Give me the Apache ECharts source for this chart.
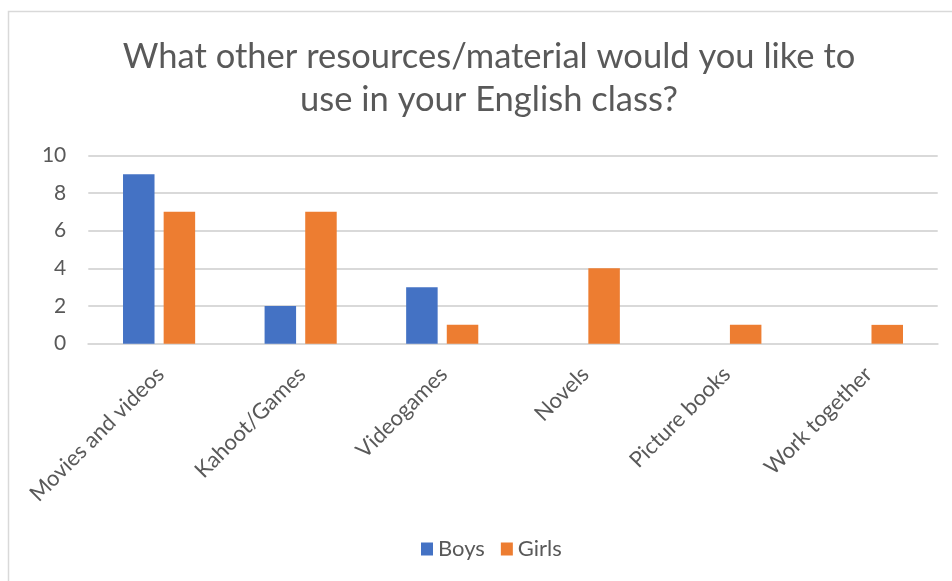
<!DOCTYPE html>
<html>
<head>
<meta charset="utf-8">
<script src="https://cdn.jsdelivr.net/npm/echarts@6/dist/echarts.min.js"></script>
<style>
  html, body { margin: 0; padding: 0; background: #ffffff; }
  #chart { width: 952px; height: 581px; }
</style>
</head>
<body>
<div id="chart"></div>
<script>
// Survey answers: preferred resources for English class, split by boys and girls
const categories = ['Movies and videos', 'Kahoot/Games', 'Videogames', 'Novels', 'Picture books', 'Work together'];
const boys = [9, 2, 3, 0, 0, 0];
const girls = [7, 7, 1, 4, 1, 1];
const yTicks = { min: 0, max: 10, interval: 2 };
const titleLines = ['What other resources/material would you like to', 'use in your English class?'];

const textColor = '#595959';
const fontFamily = 'Lato, Carlito, "Noto Sans", sans-serif';

const chart = echarts.init(document.getElementById('chart'), null, { renderer: 'canvas' });

chart.setOption({
  backgroundColor: '#ffffff',
  animation: false,
  textStyle: { fontFamily: fontFamily },
  graphic: [
    {
      type: 'rect',
      shape: { x: 8.5, y: 11.5, width: 980, height: 600 },
      style: { fill: 'none', stroke: '#d9d9d9', lineWidth: 1.5 },
      silent: true
    },
    {
      type: 'text',
      style: {
        x: 489, y: 57, text: titleLines[0],
        textAlign: 'center', textVerticalAlign: 'middle',
        font: '34.5px ' + fontFamily, fill: textColor
      }
    },
    {
      type: 'text',
      style: {
        x: 489, y: 100, text: titleLines[1],
        textAlign: 'center', textVerticalAlign: 'middle',
        font: '34.5px ' + fontFamily, fill: textColor
      }
    }
  ],
  legend: {
    data: ['Boys', 'Girls'],
    left: 416,
    top: 533,
    itemWidth: 12,
    itemHeight: 13,
    itemGap: 16,
    textStyle: { fontSize: 22, color: textColor, fontFamily: fontFamily },
    icon: 'rect'
  },
  grid: {
    left: 88.3,
    right: 14.3,
    top: 155.3,
    bottom: 237.3,
    containLabel: false
  },
  xAxis: {
    type: 'category',
    data: categories,
    axisLine: { show: true, lineStyle: { color: '#d9d9d9', width: 2 } },
    axisTick: { show: false },
    axisLabel: {
      interval: 0,
      rotate: 45,
      margin: 20,
      align: 'right',
      verticalAlign: 'top',
      fontSize: 22,
      lineHeight: 12,
      padding: [0, 4, 0, 0],
      color: textColor,
      fontFamily: fontFamily
    }
  },
  yAxis: {
    type: 'value',
    min: yTicks.min,
    max: yTicks.max,
    interval: yTicks.interval,
    axisLine: { show: false },
    axisTick: { show: false },
    splitLine: { lineStyle: { color: '#d9d9d9', width: 2 } },
    axisLabel: { fontSize: 21, color: textColor, margin: 22, fontFamily: fontFamily }
  },
  series: [
    {
      name: 'Boys',
      type: 'bar',
      data: boys,
      barWidth: 31.5,
      barGap: '29%',
      itemStyle: { color: '#4472C4' }
    },
    {
      name: 'Girls',
      type: 'bar',
      data: girls,
      barWidth: 31.5,
      itemStyle: { color: '#ED7D31' }
    }
  ]
});
</script>
</body>
</html>
